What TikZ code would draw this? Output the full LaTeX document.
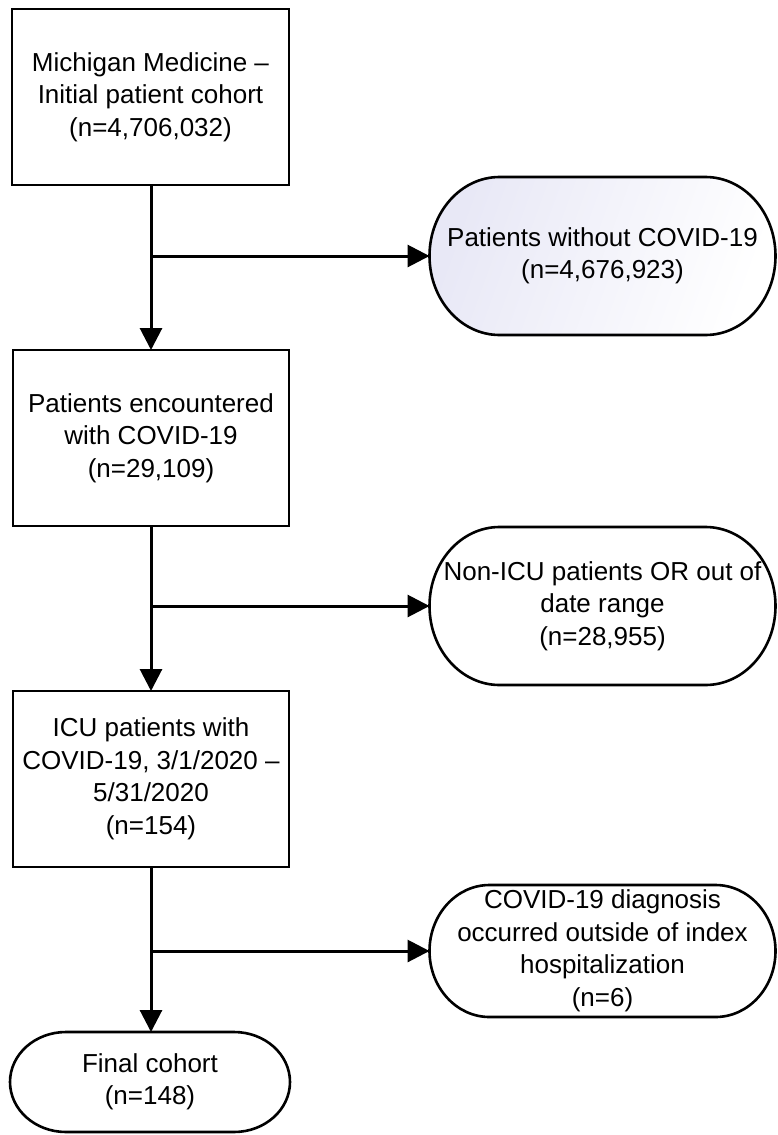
\documentclass[tikz,border=0pt]{standalone}
\usepackage{fontspec}
\setmainfont{Liberation Sans}
\usetikzlibrary{arrows.meta}
\definecolor{lav}{RGB}{232,232,246}
\newcommand\termbox[4]{%
  \path[line width=2.6pt,draw,#4] ([xshift=#2]#1.north west) -- ([xshift=-#2]#1.north east)
    arc[start angle=90,end angle=-90,x radius=#2,y radius=#3]
    -- ([xshift=#2]#1.south west)
    arc[start angle=270,end angle=90,x radius=#2,y radius=#3] -- cycle;}
\begin{document}
\begin{tikzpicture}[x=1pt,y=-1pt,
  txt/.style={align=center, inner sep=0pt, outer sep=0pt, font=\fontsize{26}{32.5}\selectfont},
  boxstyle/.style={txt, draw, line width=2.6pt, minimum width=277pt, minimum height=176pt},
  ovalstyle/.style={txt, minimum width=346pt},
  conn/.style={line width=3pt, -{Triangle[width=22pt,length=22pt]}}]
\useasboundingbox (0,0) rectangle (778,1135);
\fill[white] (0,0) rectangle (778,1135);

\node[boxstyle] (b1) at (150.5,97) {Michigan Medicine –\\Initial patient cohort\\(n=4,706,032)};
\node[ovalstyle, minimum height=158pt] (o2) at (602.5,256) {};
\termbox{o2}{70pt}{79pt}{left color=lav, right color=white, shading angle=70}
\node[txt] at (o2.center) {Patients without COVID-19\\(n=4,676,923)};
\node[boxstyle, minimum width=276pt] (b3) at (151,438) {Patients encountered\\with COVID-19\\(n=29,109)};
\node[ovalstyle, minimum height=158pt] (o4) at (602.5,606) {Non-ICU patients OR out of\\date range\\(n=28,955)};
\termbox{o4}{70pt}{79pt}{}
\node[boxstyle, minimum width=276pt] (b5) at (151,779) {ICU patients with\\COVID-19, 3/1/2020 –\\5/31/2020\\(n=154)};
\node[ovalstyle, minimum height=132pt] (o6) at (602.5,951) {COVID-19 diagnosis\\occurred outside of index\\hospitalization\\(n=6)};
\termbox{o6}{60pt}{66pt}{}
\node[ovalstyle, minimum width=280pt, minimum height=100pt] (f7) at (150,1082) {Final cohort\\(n=148)};
\termbox{f7}{56pt}{50pt}{}

\coordinate (j1) at (151,256);
\coordinate (j2) at (151,606);
\coordinate (j3) at (151,951);

\draw[conn] (b1.south -| j1) -- (b3.north -| j1);
\draw[conn] (j1) -- (o2.west);
\draw[conn] (b3.south -| j2) -- (b5.north -| j2);
\draw[conn] (j2) -- (o4.west);
\draw[conn] (b5.south -| j3) -- (f7.north -| j3);
\draw[conn] (j3) -- (o6.west);
\end{tikzpicture}
\end{document}
